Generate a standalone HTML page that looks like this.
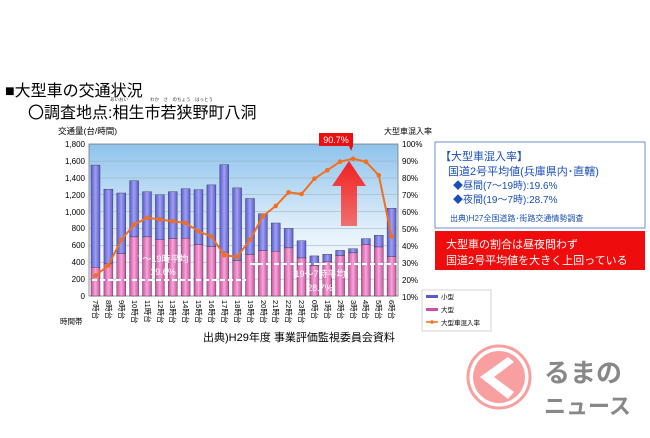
<!DOCTYPE html>
<html><head><meta charset="utf-8"><style>
body{margin:0;width:650px;height:433px;background:#fff;overflow:hidden;font-family:"Liberation Sans","Noto Sans CJK JP",sans-serif}
</style></head><body>
<svg width="650" height="433" viewBox="0 0 650 433" xmlns="http://www.w3.org/2000/svg" font-family="Liberation Sans, Noto Sans CJK JP, sans-serif">
<defs>
<linearGradient id="bg" x1="0" y1="0" x2="0" y2="1"><stop offset="0" stop-color="#8fc3ec"/><stop offset="0.6" stop-color="#e6f2fb"/><stop offset="1" stop-color="#ffffff"/></linearGradient>
<linearGradient id="bl" x1="0" y1="0" x2="1" y2="0"><stop offset="0" stop-color="#5a5ad0"/><stop offset="0.5" stop-color="#a0a0f0"/><stop offset="1" stop-color="#5a5ad0"/></linearGradient>
<linearGradient id="pk" x1="0" y1="0" x2="1" y2="0"><stop offset="0" stop-color="#d050a0"/><stop offset="0.5" stop-color="#f4a8d8"/><stop offset="1" stop-color="#d050a0"/></linearGradient>
<linearGradient id="ar" x1="0" y1="0" x2="0" y2="1"><stop offset="0" stop-color="#f02020"/><stop offset="1" stop-color="#f07070"/></linearGradient>
</defs>
<text x="5" y="96" font-size="16" fill="#000">■大型車の交通状況</text>
<text x="28" y="118" font-size="16" fill="#000">〇調査地点:相生市若狭野町八洞</text>
<text x="110" y="101" font-size="4.5" fill="#333">あいおい</text>
<text x="150" y="101" font-size="4.5" fill="#333">わか　さ　のちょう　はっとう</text>
<text x="58" y="134" font-size="8.5" fill="#000">交通量(台/時間)</text>
<text x="384" y="134" font-size="8" fill="#000">大型車混入率</text>
<rect x="89" y="144" width="309" height="152" fill="url(#bg)" stroke="#777" stroke-width="0.8"/>
<g stroke="#9ab" stroke-width="0.5">
<line x1="89" x2="398" y1="161.1" y2="161.1"/><line x1="89" x2="398" y1="178" y2="178"/><line x1="89" x2="398" y1="194.7" y2="194.7"/><line x1="89" x2="398" y1="211.6" y2="211.6"/><line x1="89" x2="398" y1="228.4" y2="228.4"/><line x1="89" x2="398" y1="245.3" y2="245.3"/><line x1="89" x2="398" y1="262.2" y2="262.2"/><line x1="89" x2="398" y1="279.1" y2="279.1"/>
</g>
<g font-size="8" fill="#000" text-anchor="end">
<text x="85" y="147">1,800</text><text x="85" y="164">1,600</text><text x="85" y="181">1,400</text><text x="85" y="198">1,200</text><text x="85" y="215">1,000</text><text x="85" y="231">800</text><text x="85" y="248">600</text><text x="85" y="265">400</text><text x="85" y="282">200</text><text x="85" y="299">0</text>
</g>
<g font-size="8" fill="#000">
<text x="402" y="147">100%</text><text x="402" y="164">90%</text><text x="402" y="181">80%</text><text x="402" y="198">70%</text><text x="402" y="215">60%</text><text x="402" y="232">50%</text><text x="402" y="249">40%</text><text x="402" y="266">30%</text><text x="402" y="283">20%</text><text x="402" y="300">10%</text>
</g>
<g stroke="#334" stroke-width="0.4">
<rect x="91" y="165.1" width="9" height="102.2" fill="url(#bl)"/><rect x="91" y="267.3" width="9" height="28.7" fill="url(#pk)"/>
<rect x="103.9" y="189.2" width="9" height="74.7" fill="url(#bl)"/><rect x="103.9" y="263.9" width="9" height="32.1" fill="url(#pk)"/>
<rect x="116.8" y="193" width="9" height="60.8" fill="url(#bl)"/><rect x="116.8" y="253.8" width="9" height="42.2" fill="url(#pk)"/>
<rect x="129.6" y="180.7" width="9" height="56.2" fill="url(#bl)"/><rect x="129.6" y="236.9" width="9" height="59.1" fill="url(#pk)"/>
<rect x="142.5" y="191.7" width="9" height="45.2" fill="url(#bl)"/><rect x="142.5" y="236.9" width="9" height="59.1" fill="url(#pk)"/>
<rect x="155.4" y="194.7" width="9" height="45.1" fill="url(#bl)"/><rect x="155.4" y="239.8" width="9" height="56.2" fill="url(#pk)"/>
<rect x="168.3" y="191.7" width="9" height="46.9" fill="url(#bl)"/><rect x="168.3" y="238.6" width="9" height="57.4" fill="url(#pk)"/>
<rect x="181.1" y="188.8" width="9" height="49.4" fill="url(#bl)"/><rect x="181.1" y="238.2" width="9" height="57.8" fill="url(#pk)"/>
<rect x="194" y="189.6" width="9" height="54.9" fill="url(#bl)"/><rect x="194" y="244.5" width="9" height="51.5" fill="url(#pk)"/>
<rect x="206.9" y="184.9" width="9" height="61.7" fill="url(#bl)"/><rect x="206.9" y="246.6" width="9" height="49.4" fill="url(#pk)"/>
<rect x="219.8" y="164.7" width="9" height="87.4" fill="url(#bl)"/><rect x="219.8" y="252.1" width="9" height="43.9" fill="url(#pk)"/>
<rect x="232.6" y="187.9" width="9" height="72.6" fill="url(#bl)"/><rect x="232.6" y="260.5" width="9" height="35.5" fill="url(#pk)"/>
<rect x="245.5" y="198.5" width="9" height="56.1" fill="url(#bl)"/><rect x="245.5" y="254.6" width="9" height="41.4" fill="url(#pk)"/>
<rect x="258.4" y="213.7" width="9" height="37.1" fill="url(#bl)"/><rect x="258.4" y="250.8" width="9" height="45.2" fill="url(#pk)"/>
<rect x="271.3" y="223" width="9" height="28.2" fill="url(#bl)"/><rect x="271.3" y="251.2" width="9" height="44.8" fill="url(#pk)"/>
<rect x="284.1" y="228.4" width="9" height="19.5" fill="url(#bl)"/><rect x="284.1" y="247.9" width="9" height="48.1" fill="url(#pk)"/>
<rect x="297" y="240.7" width="9" height="17.3" fill="url(#bl)"/><rect x="297" y="258" width="9" height="38" fill="url(#pk)"/>
<rect x="309.9" y="255.9" width="9" height="9.7" fill="url(#bl)"/><rect x="309.9" y="265.6" width="9" height="30.4" fill="url(#pk)"/>
<rect x="322.8" y="254.2" width="9" height="7.2" fill="url(#bl)"/><rect x="322.8" y="261.4" width="9" height="34.6" fill="url(#pk)"/>
<rect x="335.6" y="250.4" width="9" height="5.1" fill="url(#bl)"/><rect x="335.6" y="255.5" width="9" height="40.5" fill="url(#pk)"/>
<rect x="348.5" y="248.7" width="9" height="4.2" fill="url(#bl)"/><rect x="348.5" y="252.9" width="9" height="43.1" fill="url(#pk)"/>
<rect x="361.4" y="238.6" width="9" height="5.9" fill="url(#bl)"/><rect x="361.4" y="244.5" width="9" height="51.5" fill="url(#pk)"/>
<rect x="374.3" y="235.2" width="9" height="11.8" fill="url(#bl)"/><rect x="374.3" y="247" width="9" height="49" fill="url(#pk)"/>
<rect x="387.1" y="208.2" width="9" height="48.5" fill="url(#bl)"/><rect x="387.1" y="256.7" width="9" height="39.3" fill="url(#pk)"/>
</g>
<g stroke="#fff" stroke-width="2" stroke-dasharray="5,3">
<line x1="92" y1="280" x2="246" y2="280"/><line x1="250" y1="264" x2="397" y2="264"/>
</g>
<g fill="#fff" font-size="9" text-anchor="middle">
<text x="163" y="262">7～19時平均</text><text x="163" y="275">19.6%</text>
<text x="320" y="277">19～7時平均</text><text x="320" y="291">28.7%</text>
</g>
<polygon points="332,186 349,161 366,186 357,186 357,226 341,226 341,186" fill="url(#ar)"/>
<polyline fill="none" stroke="#f07020" stroke-width="2" points="95.5,275.6 108.4,265.4 121.3,239.9 134.1,224.6 147,217.8 159.9,219.5 172.8,221.2 185.6,222.9 198.5,231.4 211.4,236.5 224.3,255.2 237.1,256.9 250,239.9 262.9,216.1 275.8,205.9 288.6,192.3 301.5,194 314.4,178.7 327.3,170.2 340.1,161.7 353,158.8 365.9,161.7 378.8,175.3 391.6,236.5"/>
<g fill="#f07020">
<circle cx="95.5" cy="275.6" r="2.3"/><circle cx="108.4" cy="265.4" r="2.3"/><circle cx="121.3" cy="239.9" r="2.3"/><circle cx="134.1" cy="224.6" r="2.3"/><circle cx="147" cy="217.8" r="2.3"/><circle cx="159.9" cy="219.5" r="2.3"/><circle cx="172.8" cy="221.2" r="2.3"/><circle cx="185.6" cy="222.9" r="2.3"/><circle cx="198.5" cy="231.4" r="2.3"/><circle cx="211.4" cy="236.5" r="2.3"/><circle cx="224.3" cy="255.2" r="2.3"/><circle cx="237.1" cy="256.9" r="2.3"/><circle cx="250" cy="239.9" r="2.3"/><circle cx="262.9" cy="216.1" r="2.3"/><circle cx="275.8" cy="205.9" r="2.3"/><circle cx="288.6" cy="192.3" r="2.3"/><circle cx="301.5" cy="194" r="2.3"/><circle cx="314.4" cy="178.7" r="2.3"/><circle cx="327.3" cy="170.2" r="2.3"/><circle cx="340.1" cy="161.7" r="2.3"/><circle cx="353" cy="158.8" r="2.3"/><circle cx="365.9" cy="161.7" r="2.3"/><circle cx="378.8" cy="175.3" r="2.3"/><circle cx="391.6" cy="236.5" r="2.3"/>
</g>
<rect x="319" y="133" width="34" height="13" fill="#e81010"/>
<polygon points="349,146 353,146 351,151" fill="#e81010"/>
<text x="336" y="143" font-size="9" fill="#fff" text-anchor="middle">90.7%</text>
<g font-size="7.5" fill="#000">
<text transform="translate(93,300) rotate(90)">7時台</text><text transform="translate(106,300) rotate(90)">8時台</text><text transform="translate(119,300) rotate(90)">9時台</text><text transform="translate(132,300) rotate(90)">10時台</text><text transform="translate(145,300) rotate(90)">11時台</text><text transform="translate(158,300) rotate(90)">12時台</text><text transform="translate(170,300) rotate(90)">13時台</text><text transform="translate(183,300) rotate(90)">14時台</text><text transform="translate(196,300) rotate(90)">15時台</text><text transform="translate(209,300) rotate(90)">16時台</text><text transform="translate(222,300) rotate(90)">17時台</text><text transform="translate(235,300) rotate(90)">18時台</text><text transform="translate(248,300) rotate(90)">19時台</text><text transform="translate(261,300) rotate(90)">20時台</text><text transform="translate(273,300) rotate(90)">21時台</text><text transform="translate(286,300) rotate(90)">22時台</text><text transform="translate(299,300) rotate(90)">23時台</text><text transform="translate(312,300) rotate(90)">0時台</text><text transform="translate(325,300) rotate(90)">1時台</text><text transform="translate(338,300) rotate(90)">2時台</text><text transform="translate(351,300) rotate(90)">3時台</text><text transform="translate(363,300) rotate(90)">4時台</text><text transform="translate(376,300) rotate(90)">5時台</text><text transform="translate(389,300) rotate(90)">6時台</text>
</g>
<text x="60" y="324" font-size="7.5" fill="#000">時間帯</text>
<text x="203" y="341" font-size="11" fill="#000">出典)H29年度 事業評価監視委員会資料</text>
<rect x="422" y="290" width="69" height="41" fill="#fff" stroke="#bbb" stroke-width="0.6"/>
<rect x="426" y="295" width="12" height="3" fill="#5a5ad0"/><text x="441" y="299" font-size="6.5">小型</text>
<rect x="426" y="308" width="12" height="3" fill="#d050a0"/><text x="441" y="312" font-size="6.5">大型</text>
<line x1="426" y1="322" x2="438" y2="322" stroke="#f07020" stroke-width="1.5"/><circle cx="432" cy="322" r="1.8" fill="#f07020"/><text x="441" y="325" font-size="6.5">大型車混入率</text>
<rect x="435" y="142" width="210" height="86" fill="#fff" stroke="#6b8fd0" stroke-width="1"/>
<g fill="#1a4fb8">
<text x="440" y="160" font-size="11">【大型車混入率】</text>
<text x="448" y="175" font-size="11">国道2号平均値(兵庫県内･直轄)</text>
<text x="453" y="189" font-size="10">◆昼間(7～19時):19.6%</text>
<text x="453" y="203" font-size="10">◆夜間(19～7時):28.7%</text>
<text x="450" y="221" font-size="8">出典)H27全国道路･街路交通情勢調査</text>
</g>
<rect x="435" y="231" width="210" height="39" fill="#ee0c0c"/>
<text x="446" y="248" font-size="11" fill="#fff">大型車の割合は昼夜問わず</text>
<text x="446" y="264" font-size="11" fill="#fff">国道2号平均値を大きく上回っている</text>
<circle cx="499" cy="377" r="31" fill="#fff" stroke="#f8a0a0" stroke-width="3"/>
<circle cx="499" cy="377" r="26" fill="#f8a0a0"/>
<polygon points="508,357 480,377 508,399 514,392 494,377 514,362" fill="#fff"/>
<text x="544" y="382" font-size="26" font-weight="bold" fill="#888">るまの</text>
<text x="544" y="414" font-size="22" font-weight="bold" fill="#888">ニュース</text>
</svg>
</body></html>
